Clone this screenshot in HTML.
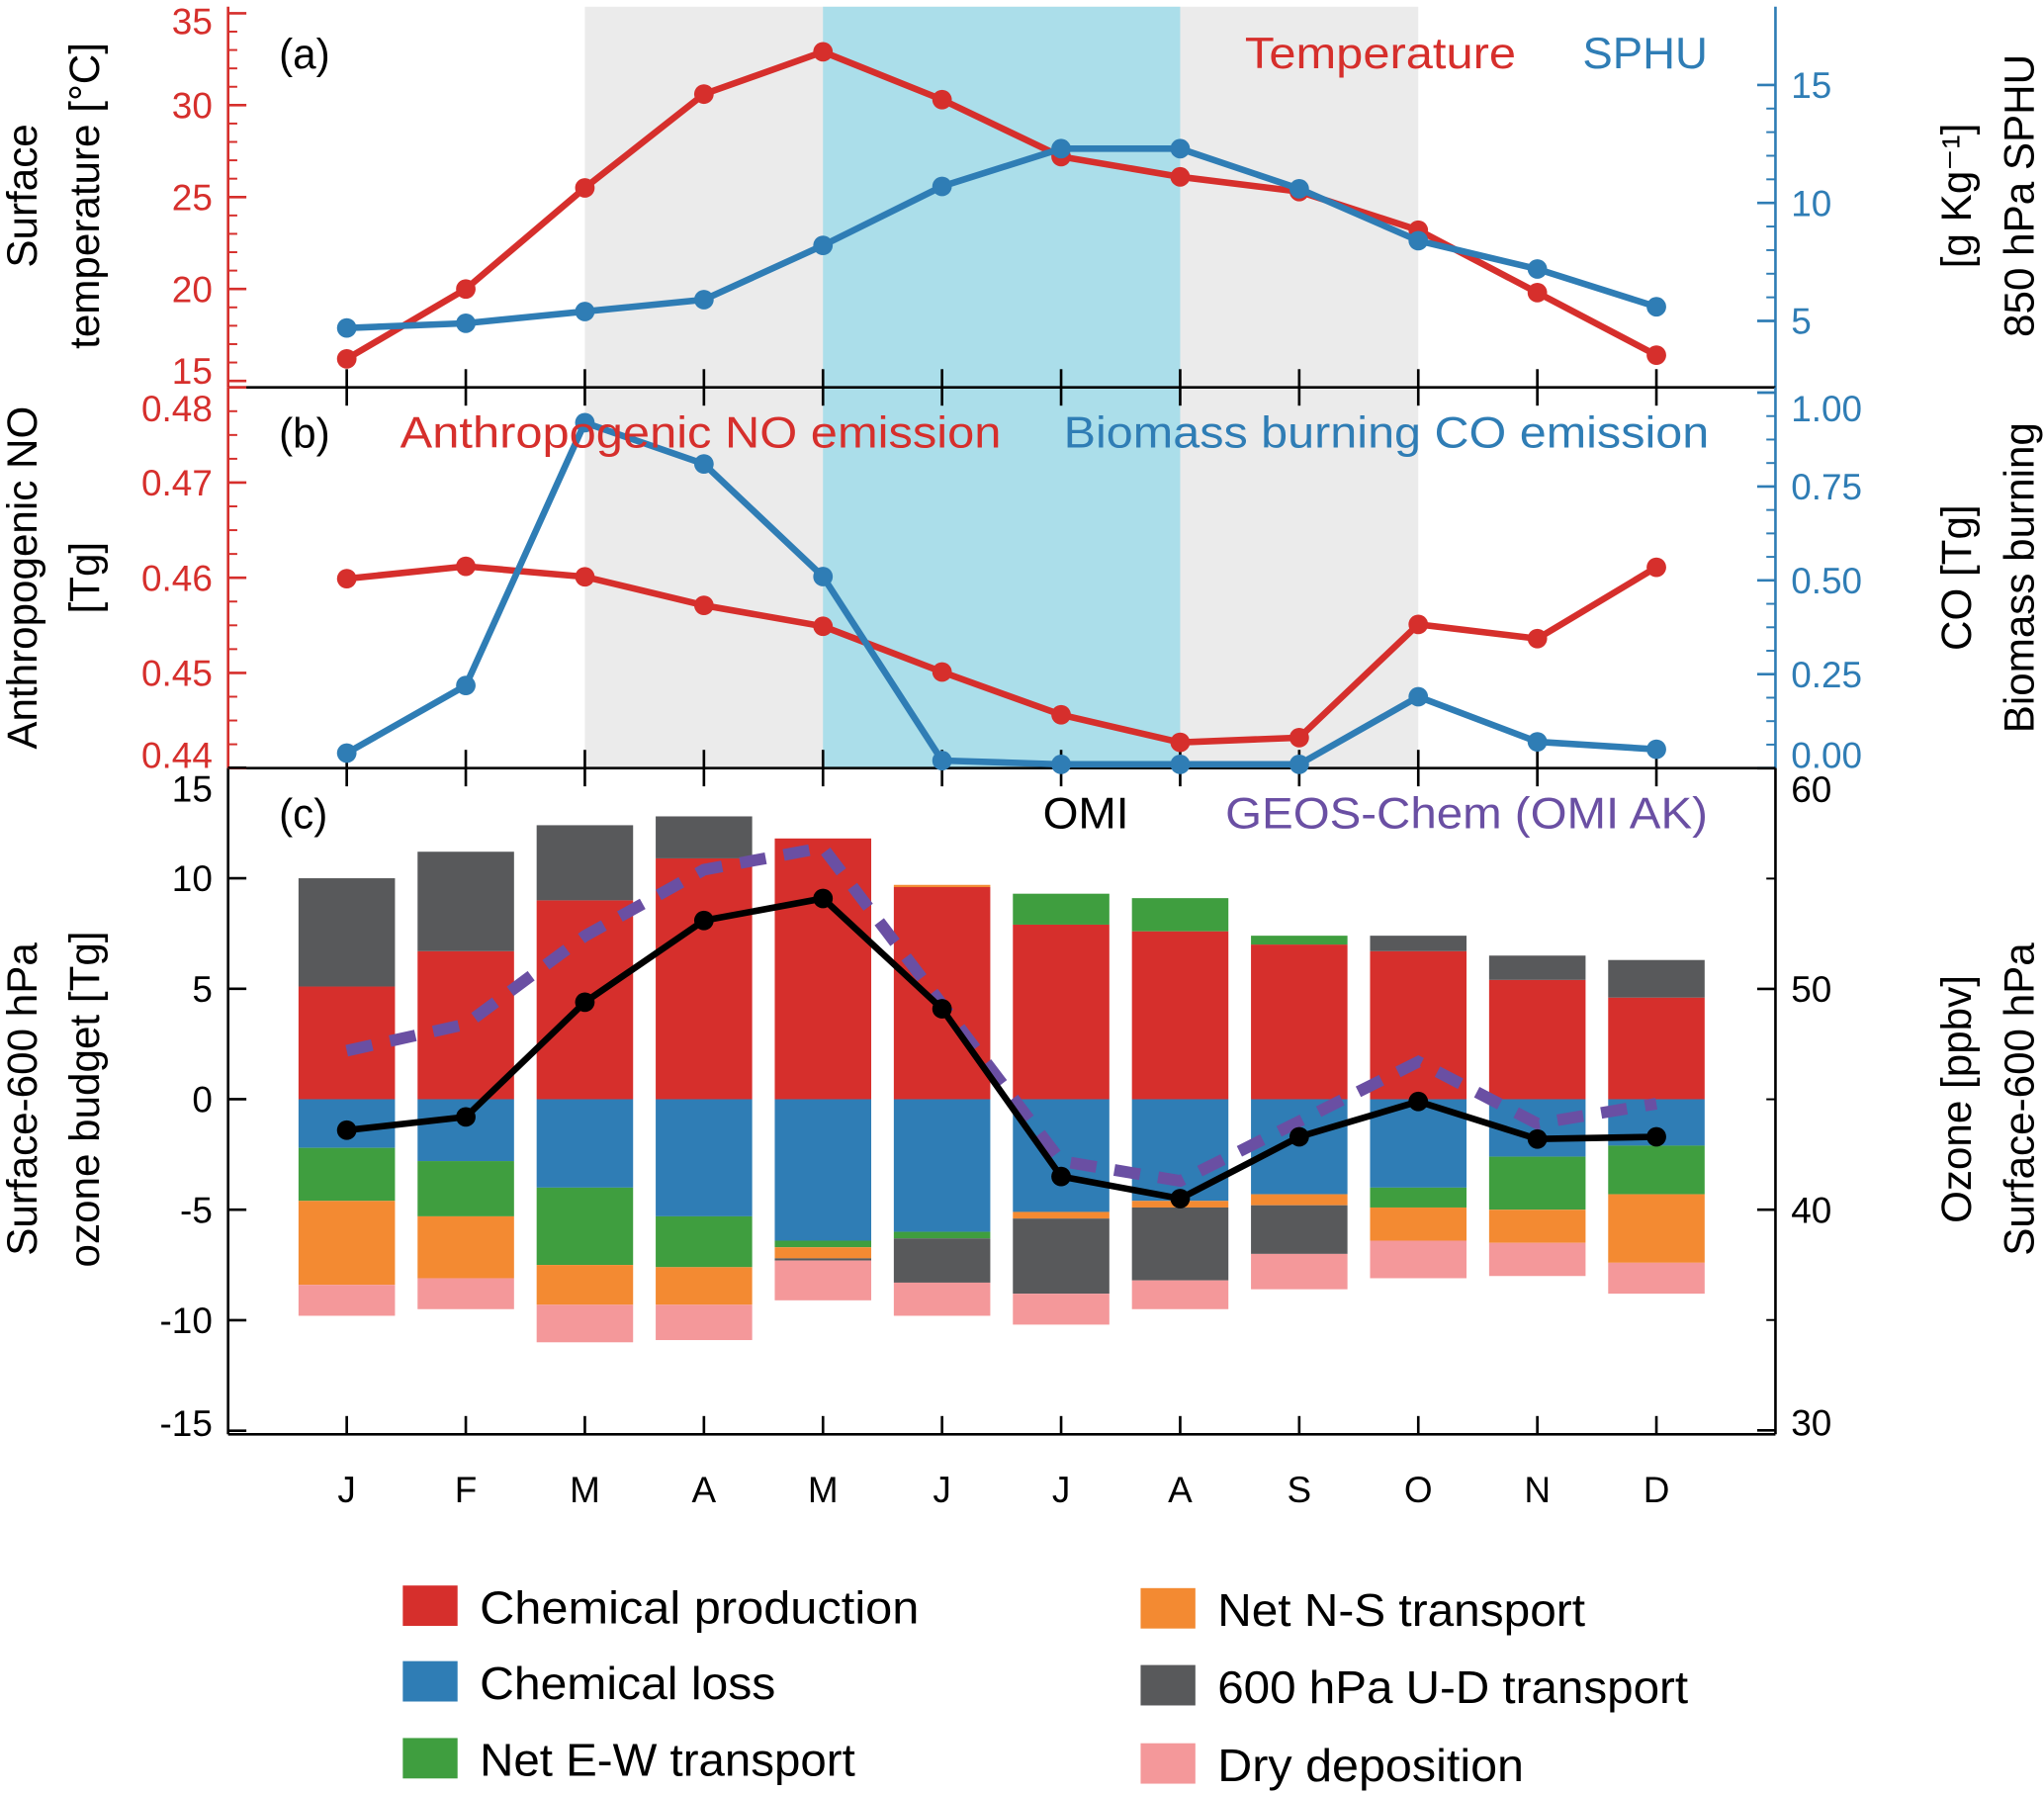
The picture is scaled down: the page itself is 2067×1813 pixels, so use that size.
<!DOCTYPE html>
<html><head><meta charset="utf-8"><style>
html,body{margin:0;padding:0;background:#fff}
svg{display:block;font-family:"Liberation Sans",sans-serif}
</style></head><body>
<svg id="chart" width="2067" height="1813" viewBox="0 0 1568 1375" xmlns="http://www.w3.org/2000/svg"></svg>
<script>
const months=["J","F","M","A","M","J","J","A","S","O","N","D"];
const temperature=[16.2,20.0,25.5,30.6,32.9,30.3,27.2,26.1,25.3,23.2,19.8,16.4];
const sphu=[4.7,4.9,5.4,5.9,8.2,10.7,12.3,12.3,10.6,8.4,7.2,5.6];
const anthroNO=[0.4599,0.4612,0.4601,0.4571,0.4549,0.4501,0.4456,0.4427,0.4432,0.4551,0.4536,0.4611];
const biomassCO=[0.04,0.22,0.92,0.81,0.51,0.02,0.01,0.01,0.01,0.19,0.07,0.05];
const chemProd=[5.1,6.7,9.0,10.9,11.8,9.6,7.9,7.6,7.0,6.7,5.4,4.6];
const chemLoss=[-2.2,-2.8,-4.0,-5.3,-6.4,-6.0,-5.1,-4.6,-4.3,-4.0,-2.6,-2.1];
const netEW=[-2.4,-2.5,-3.5,-2.3,-0.3,-0.3,1.4,1.5,0.4,-0.9,-2.4,-2.2];
const netNS=[-3.8,-2.8,-1.8,-1.7,-0.5,0.1,-0.3,-0.3,-0.5,-1.5,-1.5,-3.1];
const udTransport=[4.9,4.5,3.4,1.9,-0.1,-2.0,-3.4,-3.3,-2.2,0.7,1.1,1.7];
const dryDep=[-1.4,-1.4,-1.7,-1.6,-1.8,-1.5,-1.4,-1.3,-1.6,-1.7,-1.5,-1.4];
const omiOzone=[43.6,44.2,49.4,53.1,54.1,49.1,41.5,40.5,43.3,44.9,43.2,43.3];
const geosOzone=[47.2,48.4,52.4,55.4,56.4,49.3,42.2,41.3,44.0,46.7,43.9,44.8];

const svg=document.getElementById('chart');
const NS='http://www.w3.org/2000/svg';
function el(tag,attrs,parent){const e=document.createElementNS(NS,tag);for(const k in attrs)e.setAttribute(k,attrs[k]);(parent||svg).appendChild(e);return e;}
const RED='#d62f2c',BLUE='#2f7db5',GREEN='#3f9e3f',ORANGE='#f38a32',GREY='#58595b',PINK='#f4989a',PURPLE='#6a4fa3';
const X0=175,X1=1362;
const xm=i=>266+i*(X1-266)/12;
const yT=v=>292-(v-15)*14.1;
const yS=v=>246-(v-5)*18.1;
const yNO=v=>589-(v-0.44)*7300;
const yCO=v=>589-v*288;
const yB=v=>843-v*16.95;
const yO=v=>1097-(v-30)*16.93;

let g=el('rect',{x:xm(2),y:5,width:xm(9)-xm(2),height:584,fill:'#ebebeb'});


g=el('rect',{x:xm(4),y:5,width:xm(7)-xm(4),height:584,fill:'#abdeea'});



function txt(s,x,y,attrs,name){const t=el('text',Object.assign({x:x,y:y,'font-size':28},attrs||{}));t.textContent=s;return t;}

function frame(y0,y1,lc,rc,name,topTicks){
  const f=el('g',{});
  el('line',{x1:X0,y1:y0,x2:X0,y2:y1,stroke:lc,'stroke-width':2},f);
  el('line',{x1:X1,y1:y0,x2:X1,y2:y1,stroke:rc,'stroke-width':2},f);
  el('line',{x1:X0,y1:y1,x2:X1,y2:y1,stroke:'#000','stroke-width':2},f);
  for(let i=0;i<12;i++){el('line',{x1:xm(i),y1:y1,x2:xm(i),y2:y1-14,stroke:'#000','stroke-width':2},f);
    if(topTicks)el('line',{x1:xm(i),y1:y0,x2:xm(i),y2:y0+14,stroke:'#000','stroke-width':2},f);}
}
function yticks(side,fn,lo,hi,step,minor,color,fmt,y0,y1,labelAdj,name){
  const grp=el('g',{});
  const x=side==='l'?X0:X1,d=side==='l'?1:-1;
  for(let v=lo;v<=hi+1e-9;v+=minor){const y=fn(v);if(y<y0-1||y>y1+1)continue;el('line',{x1:x,y1:y,x2:x+d*7,y2:y,stroke:color,'stroke-width':1.5},grp);}
  for(let v=lo;v<=hi+1e-9;v+=step){const y=fn(v);el('line',{x1:x,y1:y,x2:x+d*14,y2:y,stroke:color,'stroke-width':2},grp);
    let ly=y+10;if(labelAdj)ly=labelAdj(v,ly);
    txt(fmt(v),side==='l'?X0-12:X1+12,ly,{fill:color,'text-anchor':side==='l'?'end':'start'},'tick-label');}
}
frame(5,297,RED,BLUE,'panel-a-axes',false);
frame(297,589,RED,BLUE,'panel-b-axes',true);
frame(589,1100,'#000','#000','panel-c-axes',true);
yticks('l',yT,15,35,5,1,RED,v=>v,5,297,(v,y)=>v==15?y-8:(v==35?y+6:y),'temp-axis');
yticks('r',yS,5,15,5,1,BLUE,v=>v,5,297,null,'sphu-axis');
yticks('l',yNO,0.44,0.48,0.01,0.0025,RED,v=>v.toFixed(2),297,589,(v,y)=>v>0.479?y+16:(v<0.441?y-10:y),'no-axis');
yticks('r',yCO,0,1,0.25,0.0625,BLUE,v=>v.toFixed(2),297,589,(v,y)=>v>0.99?y+12:(v<0.01?y-10:y),'co-axis');
yticks('l',yB,-15,15,5,5,'#000',v=>v,589,1100,(v,y)=>v==15?y+16:(v==-15?y-6:y),'budget-axis');
yticks('r',yO,30,60,10,5,'#000',v=>v,589,1100,(v,y)=>v==60?y+16:(v==30?y-6:y),'ozone-axis');

months.forEach((m,i)=>txt(m,xm(i),1152,{'text-anchor':'middle'},'month-label-'+i));

function series(vals,fn,color,name,w,dash,markers){
  const grp=el('g',{});
  const pts=vals.map((v,i)=>xm(i)+','+fn(v)).join(' ');
  const a={points:pts,fill:'none',stroke:color,'stroke-width':w};if(dash)a['stroke-dasharray']=dash;
  el('polyline',a,grp);
  if(markers)vals.forEach((v,i)=>{const c=el('circle',{cx:xm(i),cy:fn(v),r:7.5,fill:color},grp);});
}
series(temperature,yT,RED,'temperature-line',5,null,true);
series(sphu,yS,BLUE,'sphu-line',5,null,true);
series(anthroNO,yNO,RED,'anthro-no-line',5,null,true);
series(biomassCO,yCO,BLUE,'biomass-co-line',5,null,true);

const bw=74;
for(let i=0;i<12;i++){
  const grp=el('g',{});
  let pos=0,neg=0;
  const negOrder=[[chemLoss[i],BLUE],[netEW[i],GREEN],[netNS[i],ORANGE],[udTransport[i],GREY],[dryDep[i],PINK]];
  const posOrder=[[chemProd[i],RED],[netNS[i],ORANGE],[netEW[i],GREEN],[udTransport[i],GREY]];
  posOrder.forEach(([v,c])=>{if(v>0){const r=el('rect',{x:xm(i)-bw/2,y:yB(pos+v),width:bw,height:yB(pos)-yB(pos+v),fill:c},grp);pos+=v;}});
  negOrder.forEach(([v,c])=>{if(v<0){const r=el('rect',{x:xm(i)-bw/2,y:yB(neg),width:bw,height:yB(neg+v)-yB(neg),fill:c},grp);neg+=v;}});
}
series(geosOzone,yO,PURPLE,'geos-chem-line',9,'20,14',false);
series(omiOzone,yO,'#000','omi-line',5,null,true);

function lt(s,x,y,len,color,name){return txt(s,x,y,{'font-size':34,fill:color,textLength:len,lengthAdjust:'spacingAndGlyphs'},name);}
txt('(a)',214,52,{'font-size':32},'panel-a-label');
lt('Temperature',955,52,208,RED,'temperature-legend');
lt('SPHU',1214,52,96,BLUE,'sphu-legend');
txt('(b)',214,343,{'font-size':32},'panel-b-label');
lt('Anthropogenic NO emission',307,343,461,RED,'no-legend');
lt('Biomass burning CO emission',816,343,495,BLUE,'co-legend');
txt('(c)',214,635,{'font-size':32},'panel-c-label');
lt('OMI',800,635,66,'#000','omi-legend');
lt('GEOS-Chem (OMI AK)',940,635,370,PURPLE,'geos-legend');

function vt(s,x,y,name){txt(s,x,y,{'font-size':32,'text-anchor':'middle',transform:'rotate(-90 '+x+' '+y+')'},name);}
vt('Surface',28,150,'temp-title-1');vt('temperature [°C]',76,150,'temp-title-2');
vt('[g Kg⁻¹]',1512,150,'sphu-title-1');vt('850 hPa SPHU',1560,150,'sphu-title-2');
vt('Anthropogenic NO',28,443,'no-title-1');vt('[Tg]',76,443,'no-title-2');
vt('CO [Tg]',1512,443,'co-title-1');vt('Biomass burning',1560,443,'co-title-2');
vt('Surface-600 hPa',28,843,'budget-title-1');vt('ozone budget [Tg]',76,843,'budget-title-2');
vt('Ozone [ppbv]',1512,843,'ozone-title-1');vt('Surface-600 hPa',1560,843,'ozone-title-2');

const leg=[['Chemical production',RED,309,1216,337],['Chemical loss',BLUE,309,1274,227],['Net E-W transport',GREEN,309,1333,288],
['Net N-S transport',ORANGE,875,1218,282],['600 hPa U-D transport',GREY,875,1277,361],['Dry deposition',PINK,875,1337,235]];
leg.forEach(([l,c,x,y,w])=>{const grp=el('g',{});
  el('rect',{x:x,y:y,width:42,height:31,fill:c},grp);
  const t=el('text',{x:x+59,y:y+29,'font-size':35,textLength:w,lengthAdjust:'spacingAndGlyphs'},grp);t.textContent=l;});
</script>
</body></html>
